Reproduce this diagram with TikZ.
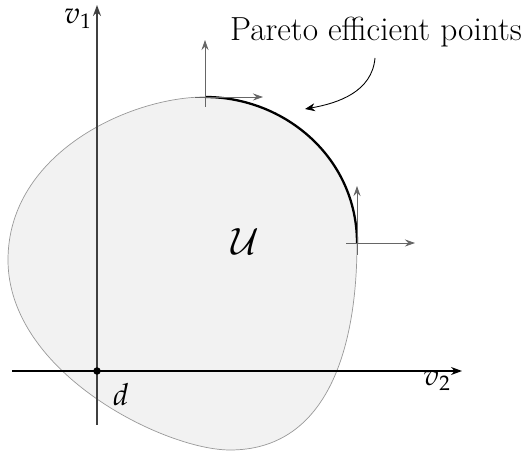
\documentclass[tikz,border=0pt]{standalone}
\usepackage{amsmath, amssymb}
\usepackage{mathpazo}
\usepackage{tikz}
\usetikzlibrary{arrows.meta, calc, positioning}
\usepackage{xcolor}

\tikzset{
  axis/.style={-{Stealth[length=2.2mm,width=1.6mm]}},
  normal/.style={gray!80!black, -{Stealth[length=2mm,width=1.4mm]}},
}

\begin{document}
\begin{tikzpicture}
\useasboundingbox (0,0) rectangle (10.5,9.06);

% Points on the boundary
\coordinate (top) at (4.10,7.12);
\coordinate (right) at (7.14,4.20);
\coordinate (d) at (1.94,1.64);

% Utility set
\filldraw[fill=black!5, draw=gray!80, line width=0.4pt]
  (top) .. controls (5.7,7.12) and (7.14,5.9) .. (right)
  .. controls (7.14,2.0) and (6.5,0.06) .. (4.6,0.06)
  .. controls (3.3,0.06) and (0.16,1.6) .. (0.16,3.86)
  .. controls (0.16,6.0) and (2.6,7.12) .. (top) -- cycle;
\node (U) at (4.9,4.22) {\huge $\mathcal{U}$};

% Axes
\coordinate (xstart) at (0.24,1.64);
\coordinate (xend) at (9.24,1.64);
\coordinate (ystart) at (1.94,0.56);
\coordinate (yend) at (1.94,8.96);
\draw[axis, line width=0.6pt] (xstart) -- (xend);
\draw[axis, line width=0.8pt, black!75] (ystart) -- (yend);
\node (v2) at (8.74,1.44) {\LARGE $v_2$};
\node (v1) at (1.56,8.68) {\LARGE $v_1$};
\fill (d) circle (0.075);
\node (dlab) at (2.42,1.16) {\LARGE $d$};

% Pareto frontier
\draw[line width=1.3pt] (top) .. controls (5.7,7.12) and (7.14,5.9) .. (right);

% Normal cones
\draw[normal] ($(top)+(0,-0.2)$) -- ($(top)+(0,1.14)$);
\draw[normal] ($(top)+(-0.2,0)$) -- ($(top)+(1.16,0)$);
\draw[normal] ($(right)+(0,-0.24)$) -- ($(right)+(0,1.14)$);
\draw[normal] ($(right)+(-0.22,0)$) -- ($(right)+(1.16,0)$);

% Label
\node (pareto) at (7.52,8.42) {\fontsize{19}{22}\selectfont Pareto efficient points};
\coordinate (onfront) at (6.1,6.88);
\draw[-{Stealth[length=2mm,width=1.6mm]}, line width=0.5pt]
  (7.5,7.9) to[out=-95, in=10] (onfront);
\end{tikzpicture}
\end{document}
